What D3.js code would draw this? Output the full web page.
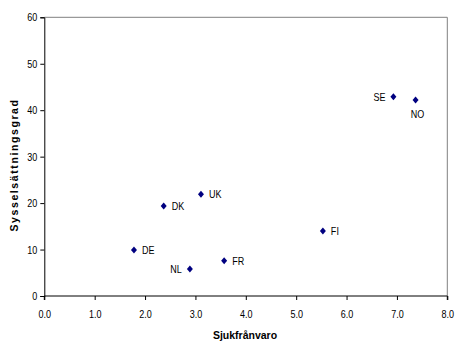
<!DOCTYPE html>
<html>
<head>
<meta charset="utf-8">
<script src="https://cdn.jsdelivr.net/npm/d3@7"></script>
<style>
  body { margin: 0; background: #fff; }
  text { font-family: "Liberation Sans", Arial, sans-serif; fill: #000; }
</style>
</head>
<body>
<svg id="chart" width="456" height="345"></svg>
<script>
// Sickness absence vs. employment rate per country
const countries = ["DE", "DK", "UK", "NL", "FR", "FI", "SE", "NO"];
const sjukfranvaro = [1.78, 2.37, 3.11, 2.89, 3.57, 5.53, 6.93, 7.37];
const sysselsattning = [9.9, 19.4, 21.9, 5.8, 7.6, 14.0, 42.9, 42.2];
const xTicks = [0, 1, 2, 3, 4, 5, 6, 7, 8];
const yTicks = [0, 10, 20, 30, 40, 50, 60];

// label placement: r = right of point, l = left, b = below
const labelPos = ["r", "r", "r", "l", "r", "r", "l", "b"];

// condensed look for the regular text
const squeeze = 0.82;

const svg = d3.select("#chart");
const plotLeft = 44.3, plotRight = 447.3, plotTop = 17.3, plotBottom = 296;

const x = d3.scaleLinear().domain([0, 8]).range([plotLeft, plotRight]);
const y = d3.scaleLinear().domain([0, 60]).range([plotBottom, plotTop]);

// plot frame (top and right)
svg.append("path")
  .attr("d", `M${plotLeft},${plotTop}H${plotRight}V${plotBottom}`)
  .attr("fill", "none").attr("stroke", "#808080").attr("stroke-width", 1);

const xAxis = svg.append("g")
  .attr("transform", `translate(0,${plotBottom})`)
  .call(d3.axisBottom(x).tickValues(xTicks).tickFormat(d3.format(".1f")).tickSize(4).tickPadding(10));
const yAxis = svg.append("g")
  .attr("transform", `translate(${plotLeft},0)`)
  .call(d3.axisLeft(y).tickValues(yTicks).tickFormat(d3.format("d")).tickSize(4).tickPadding(3));

[xAxis, yAxis].forEach(g => {
  g.select(".domain").attr("stroke", "#000").attr("stroke-width", 1);
  g.selectAll(".tick line").attr("stroke", "#000");
  g.selectAll(".tick text")
    .style("font-family", "'Liberation Sans', Arial, sans-serif")
    .style("font-size", "11px").attr("fill", "#000")
    .attr("x", function () { return (+d3.select(this).attr("x") || 0) / squeeze; })
    .attr("transform", `scale(${squeeze},1)`);
});
xAxis.select(".domain").attr("d", `M${plotLeft},4V0H${plotRight}V4`);

// axis titles
svg.append("text")
  .attr("x", 245).attr("y", 339)
  .attr("text-anchor", "middle")
  .style("font-size", "10.5px").style("font-weight", "bold")
  .text("Sjukfrånvaro");

svg.append("text")
  .attr("transform", `translate(18,165) rotate(-90)`)
  .attr("text-anchor", "middle")
  .style("font-size", "10.5px").style("font-weight", "bold")
  .style("letter-spacing", "1.6px")
  .text("Sysselsättningsgrad");

// diamond markers
const diamond = { draw(ctx) {
  const w = 3, h = 3.5;
  ctx.moveTo(0, -h); ctx.lineTo(w, 0); ctx.lineTo(0, h); ctx.lineTo(-w, 0); ctx.closePath();
} };
const pts = countries.map((c, i) => ({ c, xv: sjukfranvaro[i], yv: sysselsattning[i], pos: labelPos[i] }));

svg.append("g").selectAll("path").data(pts).join("path")
  .attr("d", d3.symbol().type(diamond))
  .attr("transform", d => `translate(${x(d.xv)},${y(d.yv)})`)
  .attr("fill", "#000080");

svg.append("g").selectAll("g").data(pts).join("g")
  .attr("transform", d => {
    const lx = d.pos === "r" ? x(d.xv) + 8 : d.pos === "l" ? x(d.xv) - 8 : x(d.xv) + 2;
    const ly = d.pos === "b" ? y(d.yv) + 18 : y(d.yv) + 4;
    return `translate(${lx},${ly}) scale(${squeeze},1)`;
  })
  .append("text")
  .attr("text-anchor", d => d.pos === "r" ? "start" : d.pos === "l" ? "end" : "middle")
  .style("font-size", "11px")
  .text(d => d.c);
</script>
</body>
</html>
